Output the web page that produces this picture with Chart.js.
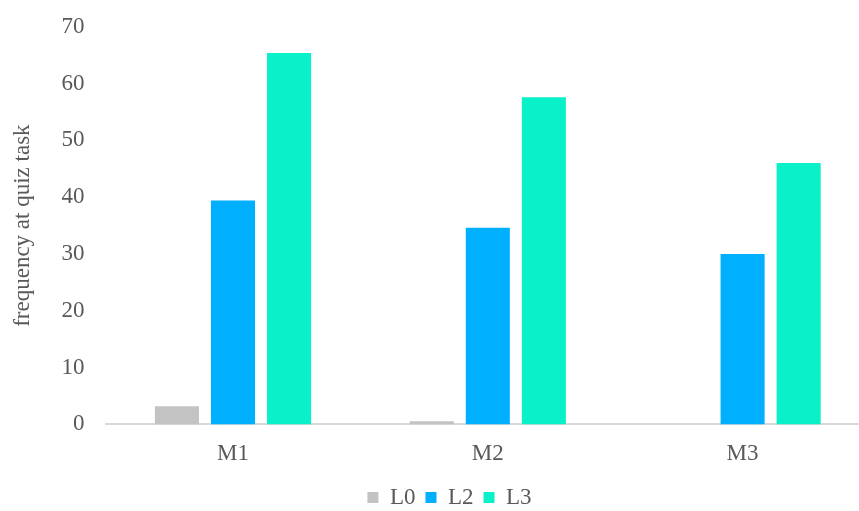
<!DOCTYPE html>
<html>
<head>
<meta charset="utf-8">
<script src="https://cdn.jsdelivr.net/npm/chart.js@4"></script>
<style>
html,body{margin:0;padding:0;background:#fff;overflow:hidden;}
#wrap{width:880px;height:511px;position:relative;}
</style>
</head>
<body>
<div id="wrap"><canvas id="c"></canvas></div>
<script>
const categories = ["M1", "M2", "M3"];
const seriesNames = ["L0", "L2", "L3"];
const L0 = [3.2, 0.55, 0];
const L2 = [39.4, 34.6, 30.0];
const L3 = [65.4, 57.6, 46.0];
const yTicks = [0, 10, 20, 30, 40, 50, 60, 70];
const colors = ["#c3c3c3", "#00b0ff", "#0af0c8"];

const font = { family: "'Liberation Serif', 'Times New Roman', serif", size: 23 };
const textColor = "#595959";

const shiftLegend = {
  id: 'shiftLegend',
  afterLayout(chart) {
    if (chart.legend) { chart.legend.left += 10; chart.legend.right += 10; }
  }
};

new Chart(document.getElementById('c'), {
  type: 'bar',
  data: {
    labels: categories,
    datasets: [L0, L2, L3].map((d, i) => ({
      label: seriesNames[i],
      data: d,
      backgroundColor: colors[i],
      borderWidth: 0,
      categoryPercentage: 0.66,
      barPercentage: 0.786
    }))
  },
  plugins: [shiftLegend],
  options: {
    responsive: true,
    maintainAspectRatio: false,
    animation: false,
    layout: { padding: { top: 2.5, left: 9, right: 10, bottom: -8 } },
    plugins: {
      legend: {
        position: 'bottom',
        labels: { boxWidth: 11, boxHeight: 11, font: font, color: textColor, padding: 10 }
      },
      tooltip: { enabled: false }
    },
    scales: {
      x: {
        grid: { display: false },
        border: { display: true, color: '#d9d9d9', width: 2 },
        ticks: { font: font, color: textColor, padding: 8 }
      },
      y: {
        min: 0, max: 70,
        afterBuildTicks: (axis) => { axis.ticks = yTicks.map(v => ({ value: v })); },
        grid: { display: false },
        border: { display: false },
        ticks: { font: font, color: textColor, padding: 13 },
        title: { display: true, text: 'frequency at quiz task', font: font, color: textColor, padding: { top: 0, bottom: 12 } }
      }
    }
  }
});
</script>
</body>
</html>
